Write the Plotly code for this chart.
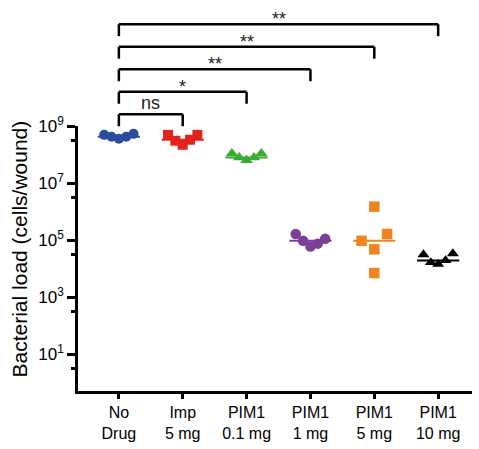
import numpy as np
import plotly.graph_objects as go

# ---------------- data ----------------
groups = ["No<br>Drug", "Imp<br>5 mg", "PIM1<br>0.1 mg", "PIM1<br>1 mg", "PIM1<br>5 mg", "PIM1<br>10 mg"]

no_drug = [4.9e8, 4.2e8, 3.6e8, 4.2e8, 5.3e8]
imp_5mg = [4.9e8, 3.05e8, 2.2e8, 3.3e8, 4.9e8]
pim1_0_1mg = [1.09e8, 7.9e7, 6.3e7, 7.9e7, 1.09e8]
pim1_1mg = [1.66e5, 9.6e4, 6.0e4, 7.6e4, 1.12e5]
pim1_5mg = [1.5e6, 9.6e4, 4.8e4, 1.66e5, 7.1e3]
pim1_10mg = [3.15e4, 1.67e4, 1.45e4, 1.96e4, 3.4e4]

# significance comparisons vs. "No Drug" (group index, label)
comparisons = [(1, "ns"), (2, "*"), (3, "**"), (4, "**"), (5, "**")]

y_tick_exponents = [1, 3, 5, 7, 9]

# ---------------- styles ----------------
series = [no_drug, imp_5mg, pim1_0_1mg, pim1_1mg, pim1_5mg, pim1_10mg]
colors = ["#2b4d9e", "#e3231e", "#3aaa35", "#7b3f98", "#f0851d", "#000000"]
symbols = ["circle", "square", "triangle-up", "circle", "square", "triangle-up"]
sizes = [10, 10, 11, 10.5, 10.5, 10.5]
FONT = "Liberation Sans, Arial, Helvetica, sans-serif"


def swarm_offsets(values, gap=0.36, max_width=0.46, step=0.2):
    """Column-scatter spreading: values closer than `gap` decades share a row
    and are spread side by side (in data order)."""
    logs = np.log10(np.asarray(values, dtype=float))
    order = np.argsort(logs)
    clusters, cur = [], [order[0]]
    for a, b in zip(order[:-1], order[1:]):
        if logs[b] - logs[a] < gap:
            cur.append(b)
        else:
            clusters.append(cur)
            cur = [b]
    clusters.append(cur)
    offs = np.zeros(len(values))
    for cl in clusters:
        cl = sorted(cl)
        n = len(cl)
        if n > 1:
            w = min(max_width, step * (n - 1))
            for k, idx in enumerate(cl):
                offs[idx] = -w / 2 + w * k / (n - 1)
    return offs


fig = go.Figure()

for i, vals in enumerate(series):
    offs = swarm_offsets(vals)
    fig.add_trace(go.Scatter(
        x=i + offs, y=vals, mode="markers",
        marker=dict(symbol=symbols[i], size=sizes[i], color=colors[i], line=dict(width=0)),
        cliponaxis=False, hoverinfo="y",
    ))
    med = float(np.median(vals))
    fig.add_trace(go.Scatter(
        x=[i - 0.33, i + 0.33], y=[med, med], mode="lines",
        line=dict(color=colors[i], width=2), hoverinfo="skip",
    ))

# significance brackets (paper y above the plot area)
base = 1.044
step = 0.085
leg = 0.045
for k, (j, lab) in enumerate(comparisons):
    yl = base + k * step
    fig.add_shape(type="line", xref="x", yref="paper", x0=0, x1=j, y0=yl, y1=yl,
                  line=dict(color="black", width=2.5))
    for xx in (0, j):
        fig.add_shape(type="line", xref="x", yref="paper", x0=xx, x1=xx, y0=yl, y1=yl - leg,
                      line=dict(color="black", width=2.5))
    is_star = "*" in lab
    fig.add_annotation(x=j / 2, xref="x", y=yl, yref="paper", text=lab, showarrow=False,
                       yanchor="bottom", xanchor="center",
                       yshift=-7 if is_star else -1,
                       font=dict(size=18, color="#222", family=FONT))

fig.add_annotation(text="Bacterial load (cells/wound)", textangle=-90, showarrow=False,
                   xref="paper", x=0, xshift=-59, yref="paper", y=0.5, yshift=9,
                   xanchor="center", yanchor="middle",
                   font=dict(size=21, color="black", family=FONT))

fig.update_layout(
    width=479, height=449,
    margin=dict(l=78, r=7, t=126, b=53),
    plot_bgcolor="white", paper_bgcolor="white",
    showlegend=False,
    font=dict(family=FONT, color="black"),
    xaxis=dict(
        range=[-0.64, 5.53], tickmode="array", tickvals=list(range(len(groups))), ticktext=groups,
        ticks="outside", ticklen=5, tickwidth=2.5, tickcolor="black",
        showline=True, linewidth=2.5, linecolor="black",
        showgrid=False, zeroline=False, tickfont=dict(size=16, color="black"),
    ),
    yaxis=dict(
        type="log", range=[-0.28, 9],
        tickmode="array",
        tickvals=[10.0 ** e for e in y_tick_exponents],
        ticktext=[f"10<sup>{e}</sup>" for e in y_tick_exponents],
        ticks="outside", ticklen=8, tickwidth=2.5, tickcolor="black",
        showline=True, linewidth=2.5, linecolor="black",
        showgrid=False, zeroline=False, tickfont=dict(size=17, color="black"),
        minor=dict(tickvals=[10.0 ** (e - 0.5) for e in y_tick_exponents],
                   ticks="outside", ticklen=4, tickwidth=2.5, tickcolor="black", showgrid=False),
    ),
)

# remove the browser's default 8 px body margin so the figure fills the window exactly
fig.write_html("out.html", config={"displayModeBar": False},
               post_script="document.body.style.margin='0px';")
